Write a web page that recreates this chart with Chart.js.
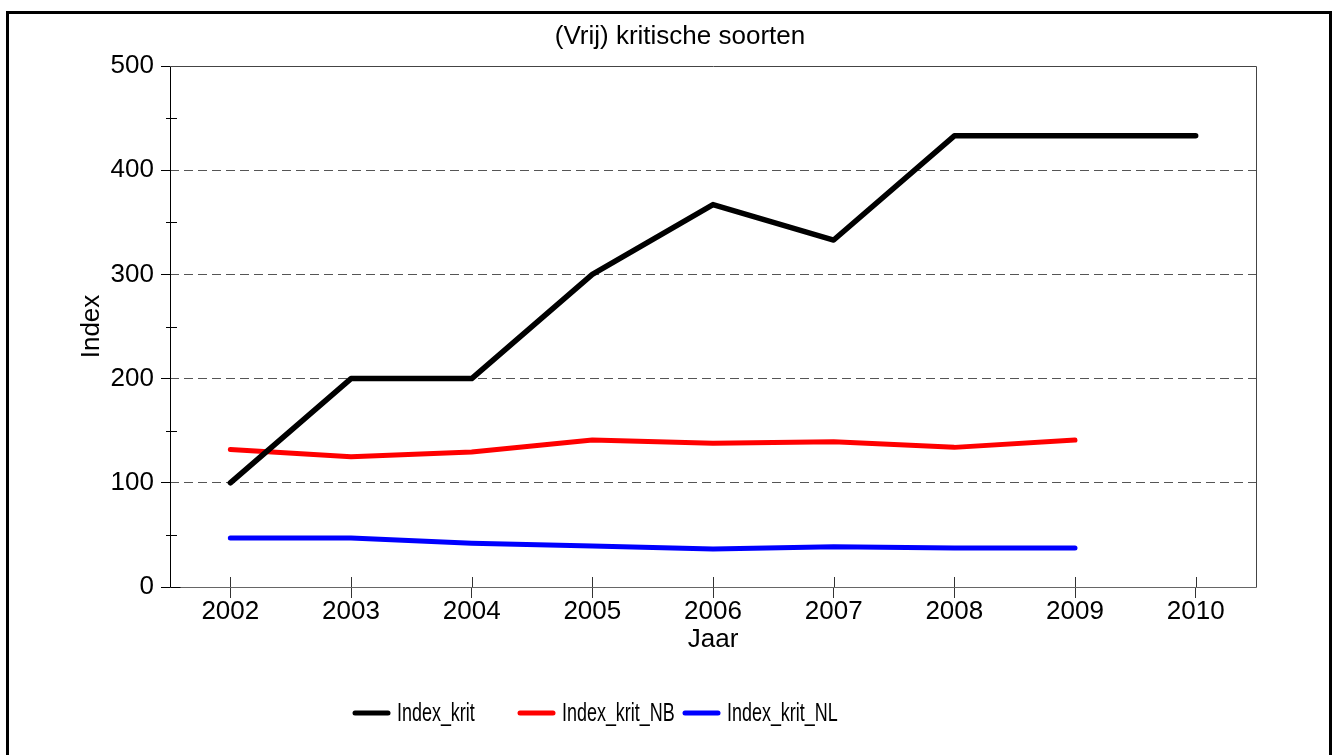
<!DOCTYPE html>
<html><head><meta charset="utf-8">
<script src="https://cdn.jsdelivr.net/npm/chart.js@4/dist/chart.umd.min.js"></script>
<style>
html,body{margin:0;padding:0;background:#fff;overflow:hidden;width:1336px;height:755px}
#frame{position:absolute;left:6px;top:11px;width:1326px;height:800px;border:3px solid #000;box-sizing:border-box}
#wrap{position:absolute;left:0;top:0;width:1336px;height:755px}
</style></head><body>
<div id="frame"></div>
<div id="wrap"><canvas id="c" width="1336" height="755"></canvas></div>
<script>
const years = ['2002','2003','2004','2005','2006','2007','2008','2009','2010'];
const indexKrit   = [100, 200, 200, 300, 367, 333, 433, 433, 433];
const indexKritNB = [132, 125, 129.5, 141, 138, 139.5, 134, 141];
const indexKritNL = [47, 47, 42, 39.3, 36.5, 38.7, 37.4, 37.4];
const seriesNames = ['Index_krit', 'Index_krit_NB', 'Index_krit_NL'];
const seriesColors = ['#000000', '#ff0000', '#0000ff'];
const chartTitle = '(Vrij) kritische soorten';
const xTitle = 'Jaar';
const yTitle = 'Index';
const yMin = 0, yMax = 500, yMajor = 100, yMinor = 50;

const FONT = '"Liberation Sans", Arial, Helvetica, sans-serif';

const decor = {
  id: 'decor',
  beforeDatasetsDraw(chart) {
    const {ctx, chartArea: a, scales: {x, y}} = chart;
    const L = Math.round(a.left) + 0.5, R = Math.round(a.right) + 0.5;
    const T = Math.round(a.top) + 0.5, B = Math.round(a.bottom) + 0.5;
    ctx.save();
    ctx.lineWidth = 1;
    // top and right border
    ctx.strokeStyle = '#444';
    ctx.beginPath();
    ctx.moveTo(L, T); ctx.lineTo(R, T); ctx.lineTo(R, B);
    ctx.stroke();
    // bottom axis line (grey)
    ctx.strokeStyle = '#666';
    ctx.beginPath();
    ctx.moveTo(L, B); ctx.lineTo(R, B);
    ctx.stroke();
    // left axis, minor ticks, inner x ticks
    ctx.strokeStyle = '#000';
    ctx.beginPath();
    ctx.moveTo(L, T); ctx.lineTo(L, B);
    ctx.moveTo(L, B); ctx.lineTo(L + 10, B);
    y.ticks.forEach(t => {
      if (t.value % yMajor !== 0) {
        const py = Math.round(y.getPixelForValue(t.value)) + 0.5;
        ctx.moveTo(a.left - 4, py); ctx.lineTo(a.left + 7, py);
      }
    });
    ctx.stroke();
    ctx.strokeStyle = '#333';
    ctx.beginPath();
    x.ticks.forEach((t, i) => {
      const px = Math.round(x.getPixelForTick(i)) + 0.5;
      ctx.moveTo(px, a.bottom - 10); ctx.lineTo(px, a.bottom);
    });
    ctx.stroke();
    ctx.restore();
  },
  afterDraw(chart) {
    const {ctx, chartArea: a} = chart;
    const lx0 = a.left + 183, step = 165, ly = 713;
    ctx.save();
    chart.data.datasets.forEach((ds, i) => {
      const x0 = lx0 + i * step;
      ctx.strokeStyle = ds.borderColor;
      ctx.lineWidth = 5;
      ctx.lineCap = 'round';
      ctx.beginPath(); ctx.moveTo(x0 + 2, ly); ctx.lineTo(x0 + 35, ly); ctx.stroke();
      ctx.save();
      ctx.translate(x0 + 44, ly + 1);
      ctx.scale(0.69, 1);
      ctx.fillStyle = '#000';
      ctx.font = '26px ' + FONT;
      ctx.textBaseline = 'middle';
      ctx.textAlign = 'left';
      ctx.fillText(ds.label, 0, 0);
      ctx.restore();
    });
    ctx.restore();
  }
};

const mk = (label, data, color, w) => ({
  label, data, borderColor: color, backgroundColor: color, borderWidth: w,
  pointRadius: 0, pointHoverRadius: 0, tension: 0, fill: false,
  borderCapStyle: 'round', borderJoinStyle: 'round'
});

new Chart(document.getElementById('c'), {
  type: 'line',
  data: {
    labels: years,
    datasets: [
      mk(seriesNames[0], indexKrit, seriesColors[0], 5.5),
      mk(seriesNames[1], indexKritNB, seriesColors[1], 5),
      mk(seriesNames[2], indexKritNL, seriesColors[2], 5)
    ]
  },
  options: {
    responsive: false,
    animation: false,
    events: [],
    layout: {padding: {left: 104, right: 80, top: 0, bottom: 93}},
    plugins: {
      legend: {display: false},
      tooltip: {enabled: false},
      title: {
        display: true, text: chartTitle, color: '#000', fullSize: true,
        font: {family: FONT, size: 26, weight: 'normal', lineHeight: 1.2},
        padding: {top: 21, bottom: 13.8}
      }
    },
    scales: {
      x: {
        type: 'category', offset: true,
        afterFit: s => { s.height = 75; },
        grid: {display: true, drawOnChartArea: false, drawTicks: true, tickLength: 11, tickColor: '#333', color: '#333'},
        border: {display: false},
        ticks: {color: '#000', padding: 1, maxRotation: 0, autoSkip: false, font: {family: FONT, size: 26, lineHeight: 1}},
        title: {display: true, text: xTitle, color: '#000', font: {family: FONT, size: 26, lineHeight: 1}, padding: {top: 0, bottom: 9}}
      },
      y: {
        min: yMin, max: yMax,
        afterFit: s => { s.width = 66; },
        grid: {
          display: true, drawOnChartArea: true, drawTicks: true, tickLength: 9,
          color: c => (c.tick && c.tick.value % yMajor === 0 && c.tick.value > yMin && c.tick.value < yMax) ? '#555' : 'rgba(0,0,0,0)',
          tickColor: c => (c.tick && c.tick.value % yMajor === 0) ? '#000' : 'rgba(0,0,0,0)',
          tickBorderDash: [],
          lineWidth: 1
        },
        border: {display: false, dash: [9, 5]},
        ticks: {
          stepSize: yMinor, color: '#000', padding: 7,
          font: {family: FONT, size: 26, lineHeight: 1},
          callback: v => (v % yMajor === 0 ? String(v) : '')
        },
        title: {display: true, text: yTitle, color: '#000', font: {family: FONT, size: 26, lineHeight: 1}, padding: {top: -25, bottom: 0}}
      }
    }
  },
  plugins: [decor]
});
</script>
</body></html>
